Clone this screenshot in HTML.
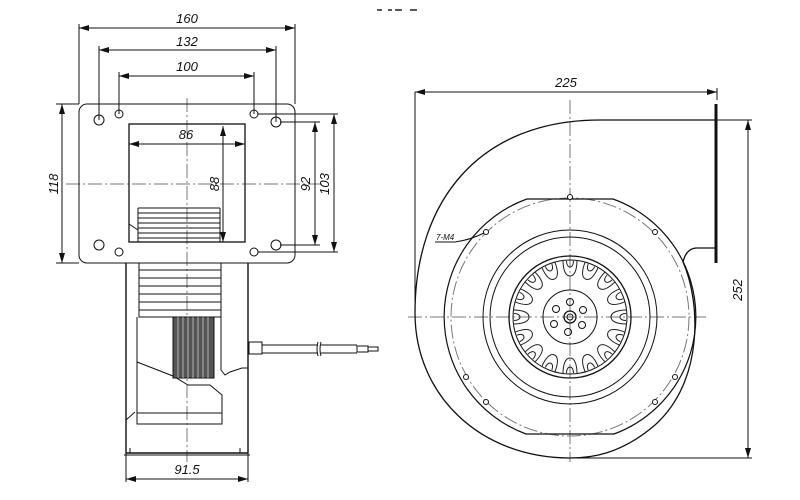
<!DOCTYPE html>
<html><head><meta charset="utf-8"><style>
html,body{margin:0;padding:0;background:#fff}
svg{display:block}
text{font-family:"Liberation Sans",sans-serif;font-style:italic;font-size:13px;fill:#111}
</style></head><body>
<svg width="800" height="500" viewBox="0 0 800 500" xmlns="http://www.w3.org/2000/svg">
<defs>
<marker id="a" viewBox="0 0 10 6" refX="10" refY="3" markerWidth="10" markerHeight="6" orient="auto-start-reverse" markerUnits="userSpaceOnUse"><path d="M0,0 L10,3 L0,6 z" fill="#111"/></marker>
<g id="bl" fill="none" stroke="#222" stroke-width="1"><path d="M-7,-57 C-7,-46 -4,-41 0,-41 C4,-41 7,-46 7,-57"/><path d="M-3.5,-56 C-3.5,-48 3.5,-48 3.5,-56"/></g>
</defs>
<g stroke="#222" stroke-width="1.5" fill="none"><path d="M377,10h5M388,10h4M395,10h7M410,10h7"/></g>

<!-- LEFT VIEW -->
<g fill="none" stroke="#111" stroke-width="1">
<g stroke="#777" stroke-dasharray="14,3,2,3"><path d="M187,98V462M66,184H322"/></g>
<rect x="79" y="104" width="216" height="159" rx="8"/>
<rect x="129" y="124" width="116" height="118" stroke-width="1.3"/>
<circle cx="99" cy="120" r="5"/><circle cx="276" cy="122" r="5"/><circle cx="99" cy="245" r="5"/><circle cx="276" cy="245" r="5"/>
<circle cx="119" cy="114" r="4"/><circle cx="254" cy="114" r="4"/><circle cx="119" cy="252" r="4"/><circle cx="254" cy="252" r="4"/>
<path d="M138,208H220M138,213H220M138,218H220M138,223H220M138,228H220M138,233H220M138,238H220M138,208V242M220,208V242M129,224L138,230"/>
<path d="M79,104V24M295,104V24M99,120V46M276,122V46M119,114V72M254,114V72"/>
<path d="M79,28H295" marker-start="url(#a)" marker-end="url(#a)"/>
<path d="M99,50H276" marker-start="url(#a)" marker-end="url(#a)"/>
<path d="M119,76H254" marker-start="url(#a)" marker-end="url(#a)"/>
<path d="M129,144H245" marker-start="url(#a)" marker-end="url(#a)"/>
<path d="M223,126V242" marker-start="url(#a)" marker-end="url(#a)"/>
<path d="M280,122H320M280,245H320M258,114H338M258,252H338"/>
<path d="M315,122V245" marker-start="url(#a)" marker-end="url(#a)"/>
<path d="M334,114V252" marker-start="url(#a)" marker-end="url(#a)"/>
<path d="M56,104H79M56,263H79"/>
<path d="M62,104V263" marker-start="url(#a)" marker-end="url(#a)"/>
<path d="M126,263V453H248V263" stroke-width="1.4"/>
<path d="M126,410V470M248,453V482M126,453V482"/>
<path d="M139,263V317H221V263M139,270H221M139,278H221M139,286H221M139,294H221M139,302H221M139,310H221"/>
<path d="M137,317V424H222V395L210,385H188L173,376L137,362"/>
<path d="M137,413H222"/>
<path d="M221,317V370L225,375L230,372L242,368H248"/>
<rect x="173" y="317" width="41" height="61" fill="#555"/>
<path d="M178,317V378M183,317V378M188,317V378M193,317V378M198,317V378M203,317V378M208,317V378" stroke="#ccc" stroke-width="0.8"/>
<path d="M126,420L135,412"/>
<path d="M130,453V448M240,453V448M124,455H250"/>
<rect x="249" y="342" width="13" height="12"/>
<path d="M262,345H318M262,353H318M321,345H357M321,353H357M318,342Q316,349 318,356M321,342Q319,349 321,356"/>
<rect x="357" y="346" width="11" height="6"/><rect x="368" y="347" width="10" height="4"/>
<path d="M126,479H248" marker-start="url(#a)" marker-end="url(#a)"/>
</g>
<text x="187" y="23" text-anchor="middle">160</text>
<text x="187" y="46" text-anchor="middle">132</text>
<text x="187" y="71" text-anchor="middle">100</text>
<text x="186" y="139" text-anchor="middle">86</text>
<text transform="translate(219,184) rotate(-90)" text-anchor="middle">88</text>
<text transform="translate(310,184) rotate(-90)" text-anchor="middle">92</text>
<text transform="translate(329,184) rotate(-90)" text-anchor="middle">103</text>
<text transform="translate(58,184) rotate(-90)" text-anchor="middle">118</text>
<text x="187" y="474" text-anchor="middle">91.5</text>

<!-- RIGHT VIEW -->
<g fill="none" stroke="#111" stroke-width="1">
<g stroke="#777" stroke-dasharray="14,3,2,3"><path d="M570,100V462M408,317H706"/>
<circle cx="570" cy="317" r="119"/></g>
<path d="M716,248H696Q686,249 683,262 C700,300 705,380 655,425 C620,455 590,458 570,458 C480,458 415,395 415,313 C415,200 480,120 600,120H716" stroke-width="1.3"/>
<path d="M716,104V263" stroke-width="3"/>
<path d="M415,313V92M717,100V88M716,120H752M570,458H752"/>
<path d="M415,92H717" marker-start="url(#a)" marker-end="url(#a)"/>
<path d="M748,120V458" marker-start="url(#a)" marker-end="url(#a)"/>
<path d="M527,199H613A125,125 0 0 1 614,434H526A125,125 0 0 1 527,199Z" stroke-width="1.2"/>
<circle cx="570" cy="317" r="87"/><circle cx="570" cy="317" r="80"/>
<circle cx="570" cy="317" r="61" stroke-width="1.3"/><circle cx="570" cy="317" r="57"/>
<circle cx="570" cy="317" r="27"/><circle cx="570" cy="317" r="6" stroke-width="1.3"/><circle cx="570" cy="317" r="3"/>
<circle cx="570" cy="302" r="3.5"/><circle cx="583" cy="310" r="3.5"/><circle cx="582" cy="325" r="3.5"/><circle cx="568" cy="332" r="3.5"/><circle cx="554" cy="324" r="3.5"/><circle cx="556" cy="309" r="3.5"/>
<g fill="#fff"><circle cx="570" cy="197" r="2.5"/><circle cx="486" cy="232" r="2.5"/><circle cx="655" cy="232" r="2.5"/><circle cx="466" cy="377" r="2.5"/><circle cx="675" cy="377" r="2.5"/><circle cx="486" cy="402" r="2.5"/><circle cx="655" cy="402" r="2.5"/></g>
<path d="M435,242H455Q470,240 484,233"/>
</g>
<g transform="translate(570,317)">
<use href="#bl" transform="rotate(0)"/><use href="#bl" transform="rotate(22.5)"/><use href="#bl" transform="rotate(45)"/><use href="#bl" transform="rotate(67.5)"/>
<use href="#bl" transform="rotate(90)"/><use href="#bl" transform="rotate(112.5)"/><use href="#bl" transform="rotate(135)"/><use href="#bl" transform="rotate(157.5)"/>
<use href="#bl" transform="rotate(180)"/><use href="#bl" transform="rotate(202.5)"/><use href="#bl" transform="rotate(225)"/><use href="#bl" transform="rotate(247.5)"/>
<use href="#bl" transform="rotate(270)"/><use href="#bl" transform="rotate(292.5)"/><use href="#bl" transform="rotate(315)"/><use href="#bl" transform="rotate(337.5)"/>
</g>
<text x="566" y="87" text-anchor="middle">225</text>
<text transform="translate(742,290) rotate(-90)" text-anchor="middle">252</text>
<text x="436" y="240" style="font-size:8px">7-M4</text>
</svg>
</body></html>
